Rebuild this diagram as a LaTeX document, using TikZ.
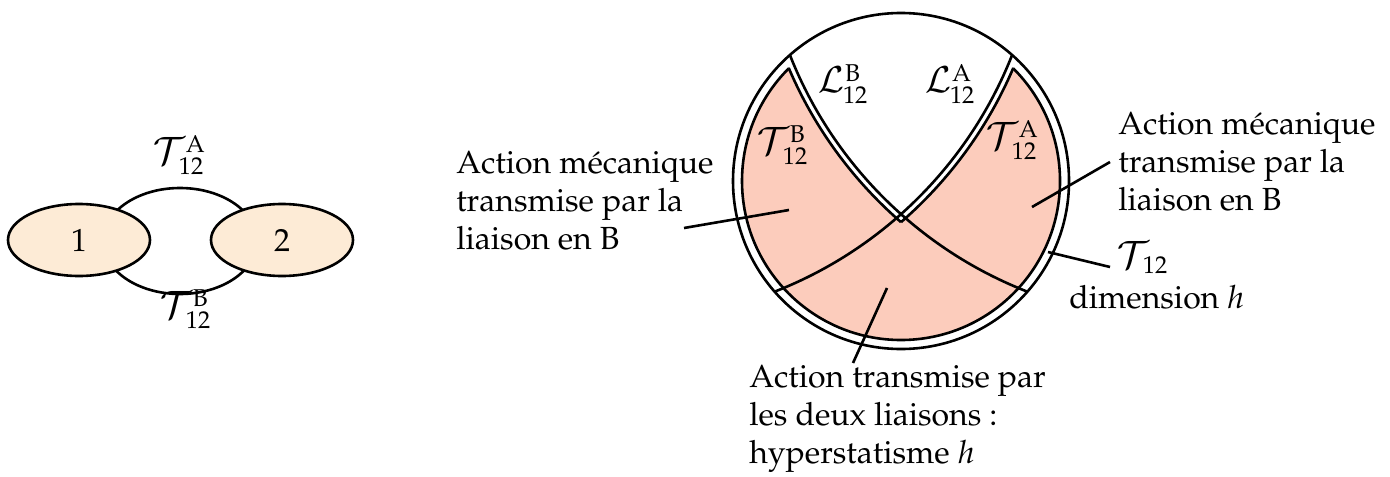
\documentclass[tikz,border=0pt]{standalone}
\usepackage[T1]{fontenc}
\usepackage{mathpazo}
\usetikzlibrary{shapes.geometric}
\definecolor{peach}{RGB}{253,235,214}
\definecolor{rose}{RGB}{252,204,188}
% calligraphic letter at size #2, subscript #3, superscript #4, sub tucked by #5
\newcommand\calsym[5]{\smash{\mbox{\fontsize{#2}{24}\selectfont$\mathcal{#1}$}}\kern-#5{}_{12}^{\kern#5\mathrm{#4}}}
\begin{document}
\begin{tikzpicture}[x=0.5pt,y=-0.5pt, line width=1.3pt,
  every node/.style={font=\fontsize{16}{19}\selectfont, inner sep=0pt},
  txt/.style={align=left, anchor=base west},
  body/.style={ellipse, draw, fill=peach, minimum width=71pt, minimum height=36pt}]
\useasboundingbox (0,0) rectangle (1390,476);
% ---------- left diagram
\draw[fill=white] (180,241) ellipse[x radius=77, y radius=53];
\node[body] (n1) at (79,240) {1};
\node[body] (n2) at (282,240) {2};
\node[txt] (tA) at (152,164) {$\calsym{T}{19}{12}{A}{3.5pt}$};
\node[txt] (tB) at (159,318) {$\calsym{T}{19}{12}{B}{3.5pt}$};
% ---------- right diagram
\coordinate (O) at (901,181);
\coordinate (CB) at (1179,-98);
\coordinate (CA) at (623,-98);
\fill[white] (O) circle[radius=168];
\fill[rose] (O) circle[radius=159];
\draw (O) circle[radius=159];
\begin{scope}
  \clip (O) circle[radius=168];
  \clip (CA) circle[radius=424];
  \fill[white] (CB) circle[radius=424];
\end{scope}
\draw (O) circle[radius=168];
\begin{scope}
  \clip (O) circle[radius=159];
  \clip (CB) circle[radius=424];
  \draw (CA) circle[radius=424];
\end{scope}
\begin{scope}
  \clip (O) circle[radius=159];
  \clip (CA) circle[radius=424];
  \draw (CB) circle[radius=424];
\end{scope}
\begin{scope}
  \clip (O) circle[radius=168];
  \draw (CA) circle[radius=418];
  \draw (CB) circle[radius=418];
\end{scope}
% region labels
\node[txt] (lB) at (817,93) {$\calsym{L}{18}{12}{B}{1pt}$};
\node[txt] (lA) at (924,93) {$\calsym{L}{18}{12}{A}{1pt}$};
\node[txt] (rB) at (756,154) {$\calsym{T}{19}{12}{B}{3.5pt}$};
\node[txt] (rA) at (985,149) {$\calsym{T}{19}{12}{A}{3.5pt}$};
% callouts
\node[txt] (cL) at (455,249) {Action m\'ecanique\\transmise par la\\liaison en B};
\node[txt] (cR) at (1117,210) {Action m\'ecanique\\transmise par la\\liaison en B};
\node[txt] (cT) at (1116,268) {$\smash{\mbox{\fontsize{19}{24}\selectfont$\mathcal{T}$}}\kern-3.5pt{}_{12}$};
\node[txt] (cD) at (1068,308) {dimension $h$};
\node[txt] (cH) at (748,463) {Action transmise par\\les deux liaisons :\\hyperstatisme $h$};
\coordinate (pB) at (789,210);  \coordinate (eB) at (684,228);
\coordinate (pA) at (1032,207); \coordinate (eA) at (1110,162);
\coordinate (pT) at (1048,252); \coordinate (eT) at (1110,267);
\coordinate (pH) at (887,288);  \coordinate (eH) at (853,363);
\draw (pB) -- (eB);
\draw (pA) -- (eA);
\draw (pT) -- (eT);
\draw (pH) -- (eH);
\end{tikzpicture}
\end{document}
